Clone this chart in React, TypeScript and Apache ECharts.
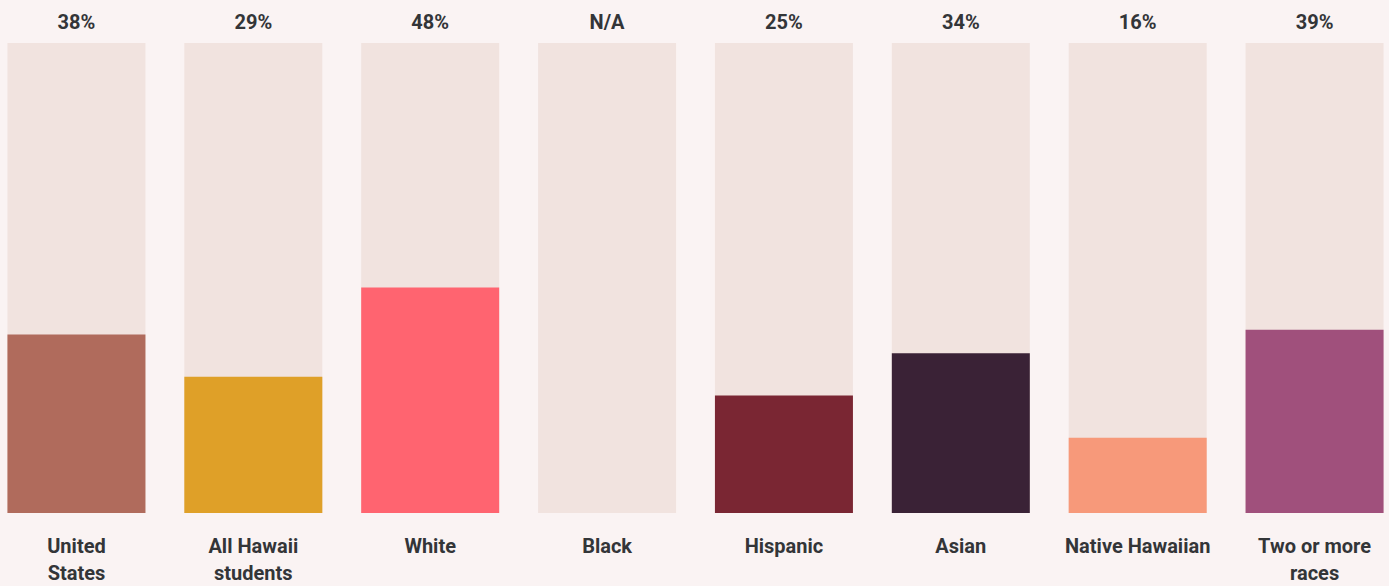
import React, { useEffect, useRef } from "react";
import * as echarts from "echarts";

const categories = ["United\nStates", "All Hawaii\nstudents", "White", "Black", "Hispanic", "Asian", "Native Hawaiian", "Two or more\nraces"];
const values: (number | null)[] = [38, 29, 48, null, 25, 34, 16, 39];
const topLabels = ["38%", "29%", "48%", "N/A", "25%", "34%", "16%", "39%"];
const barColors = ["#b06b5c", "#dfa028", "#ff6470", "#f1e3df", "#7a2633", "#3a2236", "#f7997a", "#a0507c"];
const fullValues = [100, 100, 100, 100, 100, 100, 100, 100];

const FONT = 'Roboto, sans-serif';

export default function App() {
  const ref = useRef<HTMLDivElement>(null);
  useEffect(() => {
    if (!ref.current) return;
    const chart = echarts.init(ref.current, undefined, { renderer: "svg" });
    chart.setOption({
      animation: false,
      grid: { left: 0, right: 0, top: 43, height: 472, containLabel: false },
      xAxis: {
        type: "category",
        data: categories,
        axisLine: { show: false },
        axisTick: { show: false },
        axisLabel: {
          interval: 0,
          margin: 19,
          color: "#333538",
          fontFamily: FONT,
          fontWeight: "bold",
          fontSize: 20,
          lineHeight: 27,
        },
      },
      yAxis: { type: "value", min: 0, max: 100, show: false },
      series: [
        {
          type: "bar",
          data: fullValues,
          barWidth: 138,
          itemStyle: { color: "#f1e3df" },
          label: {
            show: true,
            position: "top",
            distance: 11,
            formatter: (p: any) => topLabels[p.dataIndex],
            color: "#333538",
            fontFamily: FONT,
            fontWeight: "bold",
            fontSize: 20,
          },
          silent: true,
        },
        {
          type: "bar",
          data: values.map((v, i) => ({ value: v, itemStyle: { color: barColors[i] } })),
          barWidth: 138,
          barGap: "-100%",
          z: 3,
        },
      ],
    });
    return () => chart.dispose();
  }, []);
  return (
    <div style={{ position: "fixed", left: 0, top: 0, width: 1389, height: 586, overflow: "hidden", background: "#faf3f3" }}>
      <div ref={ref} style={{ position: "absolute", left: -12.5, top: 0, width: 1415, height: 586 }} />
    </div>
  );
}
